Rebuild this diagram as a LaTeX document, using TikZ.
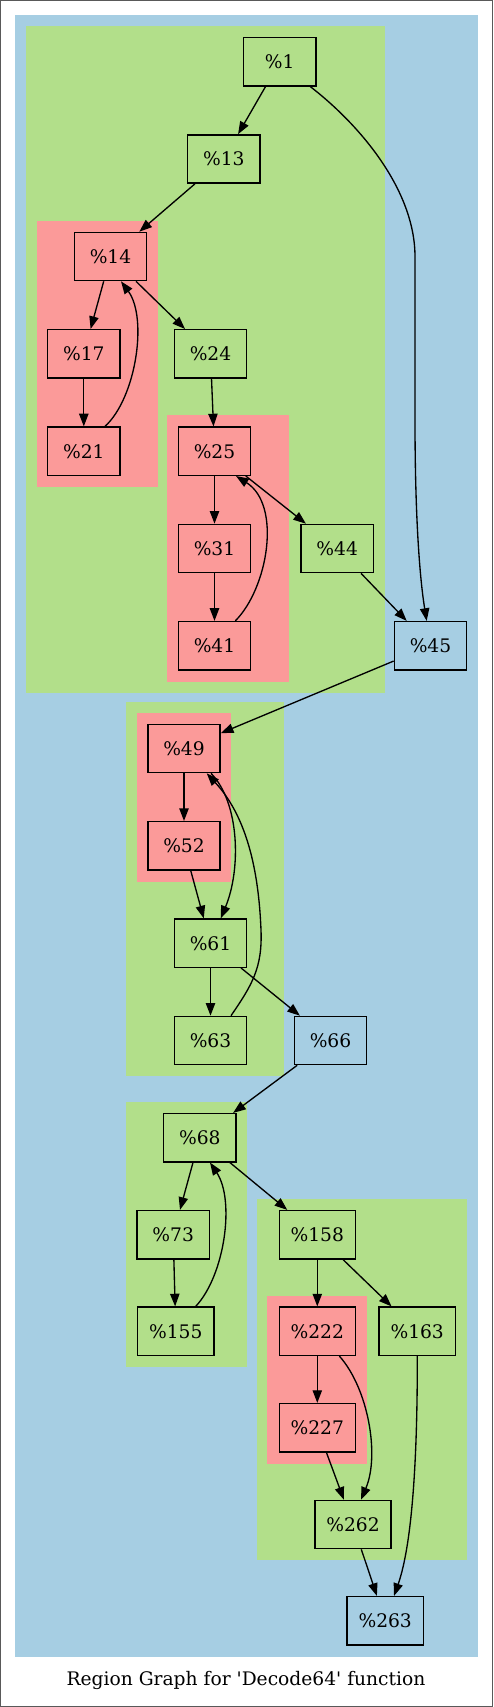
\documentclass[tikz,border=0pt]{standalone}
\usepackage{fontspec}
\newfontfamily\gvfont{DejaVu Serif}
\usetikzlibrary{arrows.meta}
\definecolor{cblue}{HTML}{A6CEE3}
\definecolor{cgreen}{HTML}{B2DF8A}
\definecolor{cred}{HTML}{FB9A99}
\begin{document}
\begin{tikzpicture}[x=0.75pt,y=-0.75pt,
  blk/.style={draw=black, line width=1pt, minimum width=54.2pt, minimum height=36.2pt, inner sep=0pt, font=\gvfont\fontsize{14}{16}\selectfont, anchor=center},
  wide/.style={minimum width=57.2pt},
  bnode/.style={blk, fill=cblue},
  gnode/.style={blk, fill=cgreen},
  rnode/.style={blk, fill=cred},
  edge/.style={draw, line width=1pt, -{Triangle[length=9.5pt,width=7pt]}}]
\useasboundingbox (0,0) rectangle (493,1707);
\draw[black!65, line width=1pt] (0.7,0.7) rectangle (492.3,1706.3);
\fill[cblue] (15,15) rectangle (478,1656.7);
% clusters
\fill[cgreen] (26,26) rectangle (385,692.7);
\fill[cred] (36.7,220.7) rectangle (157.7,487);
\fill[cred] (167,415.3) rectangle (288.7,681.7);
\fill[cgreen] (126,702) rectangle (284.3,1076.3);
\fill[cred] (137,712.7) rectangle (231,881.7);
\fill[cgreen] (126,1102) rectangle (247,1366.7);
\fill[cgreen] (256.7,1199.3) rectangle (467.3,1559.7);
\fill[cred] (267.3,1295.7) rectangle (367,1463.7);
% nodes
\node[gnode] (n1) at (279.8,61.8) {\%1};
\node[gnode] (n13) at (223.8,159) {\%13};
\node[rnode] (n14) at (110.5,256.5) {\%14};
\node[rnode] (n17) at (83.8,353.8) {\%17};
\node[gnode] (n24) at (210.5,353.8) {\%24};
\node[rnode] (n21) at (83.8,451.2) {\%21};
\node[rnode] (n25) at (214.5,451.2) {\%25};
\node[rnode] (n31) at (214.5,548.5) {\%31};
\node[gnode] (n44) at (337.2,548.5) {\%44};
\node[rnode] (n41) at (214.5,645.7) {\%41};
\node[bnode] (n45) at (430.5,645.7) {\%45};
\node[rnode] (n49) at (184,748.5) {\%49};
\node[rnode] (n52) at (184,845.8) {\%52};
\node[gnode] (n61) at (210.5,943.2) {\%61};
\node[gnode] (n63) at (210.5,1040.5) {\%63};
\node[bnode] (n66) at (330.5,1040.5) {\%66};
\node[gnode] (n68) at (199.8,1137.7) {\%68};
\node[gnode] (n73) at (173.2,1234.7) {\%73};
\node[gnode,wide] (n155) at (175.8,1331.2) {\%155};
\node[gnode,wide] (n158) at (317.3,1234.7) {\%158};
\node[rnode,wide] (n222) at (317.3,1331.2) {\%222};
\node[gnode,wide] (n163) at (417.2,1331.2) {\%163};
\node[rnode,wide] (n227) at (317.3,1427.7) {\%227};
\node[gnode,wide] (n262) at (353,1524.5) {\%262};
\node[bnode,wide] (n263) at (385.2,1620.7) {\%263};
% straight edges
\draw[edge] (n1) -- (n13);
\draw[edge] (n13) -- (n14);
\draw[edge] (n14) -- (n17);
\draw[edge] (n14) -- (n24);
\draw[edge] (n17) -- (n21);
\draw[edge] (n24) -- (n25);
\draw[edge] (n25) -- (n31);
\draw[edge] (n25) -- (n44);
\draw[edge] (n31) -- (n41);
\draw[edge] (n44) -- (n45);
\draw[edge] (n45) -- (n49);
\draw[edge] (n49) -- (n52);
\draw[edge] (n52) -- (n61);
\draw[edge] (n61) -- (n63);
\draw[edge] (n61) -- (n66);
\draw[edge] (n66) -- (n68);
\draw[edge] (n68) -- (n73);
\draw[edge] (n68) -- (n158);
\draw[edge] (n73) -- (n155);
\draw[edge] (n158) -- (n222);
\draw[edge] (n158) -- (n163);
\draw[edge] (n222) -- (n227);
\draw[edge] (n227) -- (n262);
\draw[edge] (n262) -- (n263);
% curved edges
\draw[edge] ([shift={(30.5,0)}]n1.south) .. controls (360,125) and (415,190) .. (415,256.7) -- (415,420) .. controls (415,520) and (420,580) .. ([shift={(-3.8,0)}]n45.north);
\draw[edge] ([shift={(21.2,0)}]n21.north) .. controls (136,398) and (148,318) .. ([shift={(10.5,0)}]n14.south);
\draw[edge] ([shift={(20.8,0)}]n41.north) .. controls (268,588) and (282,505) .. ([shift={(21.5,0)}]n25.south);
\draw[edge] ([shift={(27,0)}]n49.south) .. controls (240,803) and (241,870) .. ([shift={(10.2,0)}]n61.north);
\draw[edge] ([shift={(20.5,0)}]n63.north) .. controls (252,985) and (262.5,968) .. (261,930) .. controls (259,880) and (250,820) .. ([shift={(22.7,0)}]n49.south);
\draw[edge] ([shift={(19.9,0)}]n155.north) .. controls (225,1275) and (235,1200) .. ([shift={(10.2,0)}]n68.south);
\draw[edge] ([shift={(22,0)}]n222.south) .. controls (368,1388) and (380,1455) .. ([shift={(8,0)}]n262.north);
\draw[edge] ([shift={(0.1,0)}]n163.south) .. controls (417.5,1460) and (412,1545) .. ([shift={(8.8,0)}]n263.north);
% caption
\node[font=\gvfont\fontsize{14}{16}\selectfont, inner sep=0pt] (cap) at (246,1680) {Region Graph for 'Decode64' function};
\end{tikzpicture}
\end{document}
